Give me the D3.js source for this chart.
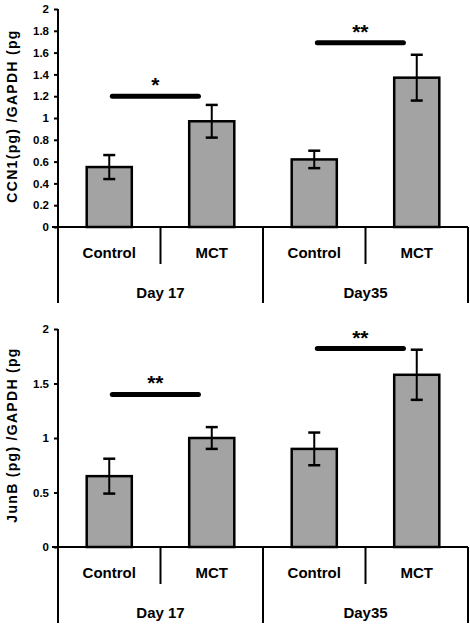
<!DOCTYPE html>
<html><head><meta charset="utf-8">
<script src="https://cdn.jsdelivr.net/npm/d3@7"></script>
<style>body{margin:0;background:#fff;} svg{display:block;}</style>
</head><body>
<svg id="c" width="470" height="625"></svg>
<script>
const categories = ["Control", "MCT", "Control", "MCT"];
const groups = ["Day 17", "Day35"];
const ccn1Values = [0.55, 0.97, 0.62, 1.37];
const ccn1Errors = [0.11, 0.15, 0.08, 0.21];
const junbValues = [0.65, 1.0, 0.9, 1.58];
const junbErrors = [0.16, 0.1, 0.15, 0.23];
const ccn1Ticks = [0, 0.2, 0.4, 0.6, 0.8, 1, 1.2, 1.4, 1.6, 1.8, 2];
const junbTicks = [0, 0.5, 1, 1.5, 2];
const ccn1Sig = [{from:0, to:1, y:1.2, label:"*"}, {from:2, to:3, y:1.69, label:"**"}];
const junbSig = [{from:0, to:1, y:1.4, label:"**"}, {from:2, to:3, y:1.82, label:"**"}];

const svg = d3.select("#c");
const font = "'Liberation Sans', Arial, sans-serif";

function panel(opts) {
  const g = svg.append("g");
  const x = d3.scaleBand().domain(d3.range(categories.length)).range([58, 468]).paddingInner(0).paddingOuter(0);
  const y = d3.scaleLinear().domain([0, 2]).range([opts.y0, opts.y0 - 218]);
  const bw = x.bandwidth() * 0.44;

  // y axis
  const yAxis = d3.axisLeft(y).tickValues(opts.ticks).tickSize(4).tickPadding(5)
    .tickFormat(d => d3.format("~g")(d));
  const ga = g.append("g").attr("transform", "translate(58,0)").call(yAxis);
  ga.select(".domain").remove();
  ga.selectAll(".tick line").attr("stroke", "#000").attr("stroke-width", 2);
  ga.selectAll(".tick text").attr("font-family", font).attr("font-weight", "bold")
    .attr("font-size", 11.5).attr("fill", "#000");
  g.append("line").attr("x1", 58).attr("x2", 58).attr("y1", y(2)).attr("y2", opts.y0 + 76)
    .attr("stroke", "#000").attr("stroke-width", 2);

  // bars
  g.selectAll("rect.bar").data(opts.values).join("rect").attr("class", "bar")
    .attr("x", (d, i) => x(i) + (x.bandwidth() - bw) / 2)
    .attr("y", d => y(d)).attr("width", bw).attr("height", d => y(0) - y(d))
    .attr("fill", "#a3a3a3").attr("stroke", "#000").attr("stroke-width", 2.5);

  // error bars
  const eg = g.selectAll("g.err").data(opts.values).join("g").attr("class", "err");
  eg.append("line").attr("x1", (d, i) => x(i) + x.bandwidth() / 2).attr("x2", (d, i) => x(i) + x.bandwidth() / 2)
    .attr("y1", (d, i) => y(d + opts.errors[i])).attr("y2", (d, i) => y(d - opts.errors[i]))
    .attr("stroke", "#000").attr("stroke-width", 2);
  [1, -1].forEach(s => {
    eg.append("line").attr("x1", (d, i) => x(i) + x.bandwidth() / 2 - 6).attr("x2", (d, i) => x(i) + x.bandwidth() / 2 + 6)
      .attr("y1", (d, i) => y(d + s * opts.errors[i])).attr("y2", (d, i) => y(d + s * opts.errors[i]))
      .attr("stroke", "#000").attr("stroke-width", 2.5);
  });

  // baseline
  g.append("line").attr("x1", 52).attr("x2", 468).attr("y1", y(0)).attr("y2", y(0))
    .attr("stroke", "#000").attr("stroke-width", 2);
  // separators
  [1, 3].forEach(i => {
    g.append("line").attr("x1", x(i)).attr("x2", x(i)).attr("y1", y(0)).attr("y2", y(0) + 37)
      .attr("stroke", "#000").attr("stroke-width", 2);
  });
  [2, 4].forEach(i => {
    const xx = i === 4 ? 468 : x(i);
    g.append("line").attr("x1", xx).attr("x2", xx).attr("y1", y(0)).attr("y2", y(0) + 76)
      .attr("stroke", "#000").attr("stroke-width", 2);
  });
  // category labels
  g.selectAll("text.cat").data(categories).join("text").attr("class", "cat")
    .attr("x", (d, i) => x(i) + x.bandwidth() / 2).attr("y", y(0) + 31)
    .attr("text-anchor", "middle").attr("font-family", font).attr("font-size", 15)
    .attr("font-weight", "bold").attr("letter-spacing", 0).text(d => d);
  g.selectAll("text.grp").data(groups).join("text").attr("class", "grp")
    .attr("x", (d, i) => (x(i * 2) + x(i * 2 + 1) + x.bandwidth()) / 2).attr("y", y(0) + 71)
    .attr("text-anchor", "middle").attr("font-family", font).attr("font-size", 15)
    .attr("font-weight", "bold").attr("letter-spacing", 0).text(d => d);

  // significance
  opts.sig.forEach(s => {
    const x1 = x(s.from) + x.bandwidth() * 0.53, x2 = x(s.to) + x.bandwidth() * 0.37;
    g.append("line").attr("x1", x1).attr("x2", x2).attr("y1", y(s.y)).attr("y2", y(s.y))
      .attr("stroke", "#000").attr("stroke-width", 5).attr("stroke-linecap", "round");
    g.append("text").attr("x", (x1 + x2) / 2).attr("y", y(s.y) - 4).attr("text-anchor", "middle")
      .attr("font-family", font).attr("font-size", 21).attr("font-weight", "bold").text(s.label);
  });

  // y label
  g.append("text").attr("transform", `translate(17,${opts.labelY}) rotate(-90)`)
    .attr("text-anchor", "middle").attr("font-family", font).attr("font-size", 14)
    .attr("font-weight", "bold").attr("letter-spacing", 1.3).text(opts.label);
}

panel({y0: 227, values: ccn1Values, errors: ccn1Errors, ticks: ccn1Ticks, sig: ccn1Sig,
  label: "CCN1(pg) /GAPDH (pg", labelY: 116});
panel({y0: 547, values: junbValues, errors: junbErrors, ticks: junbTicks, sig: junbSig,
  label: "JunB (pg) /GAPDH (pg", labelY: 435});
</script>
</body></html>
